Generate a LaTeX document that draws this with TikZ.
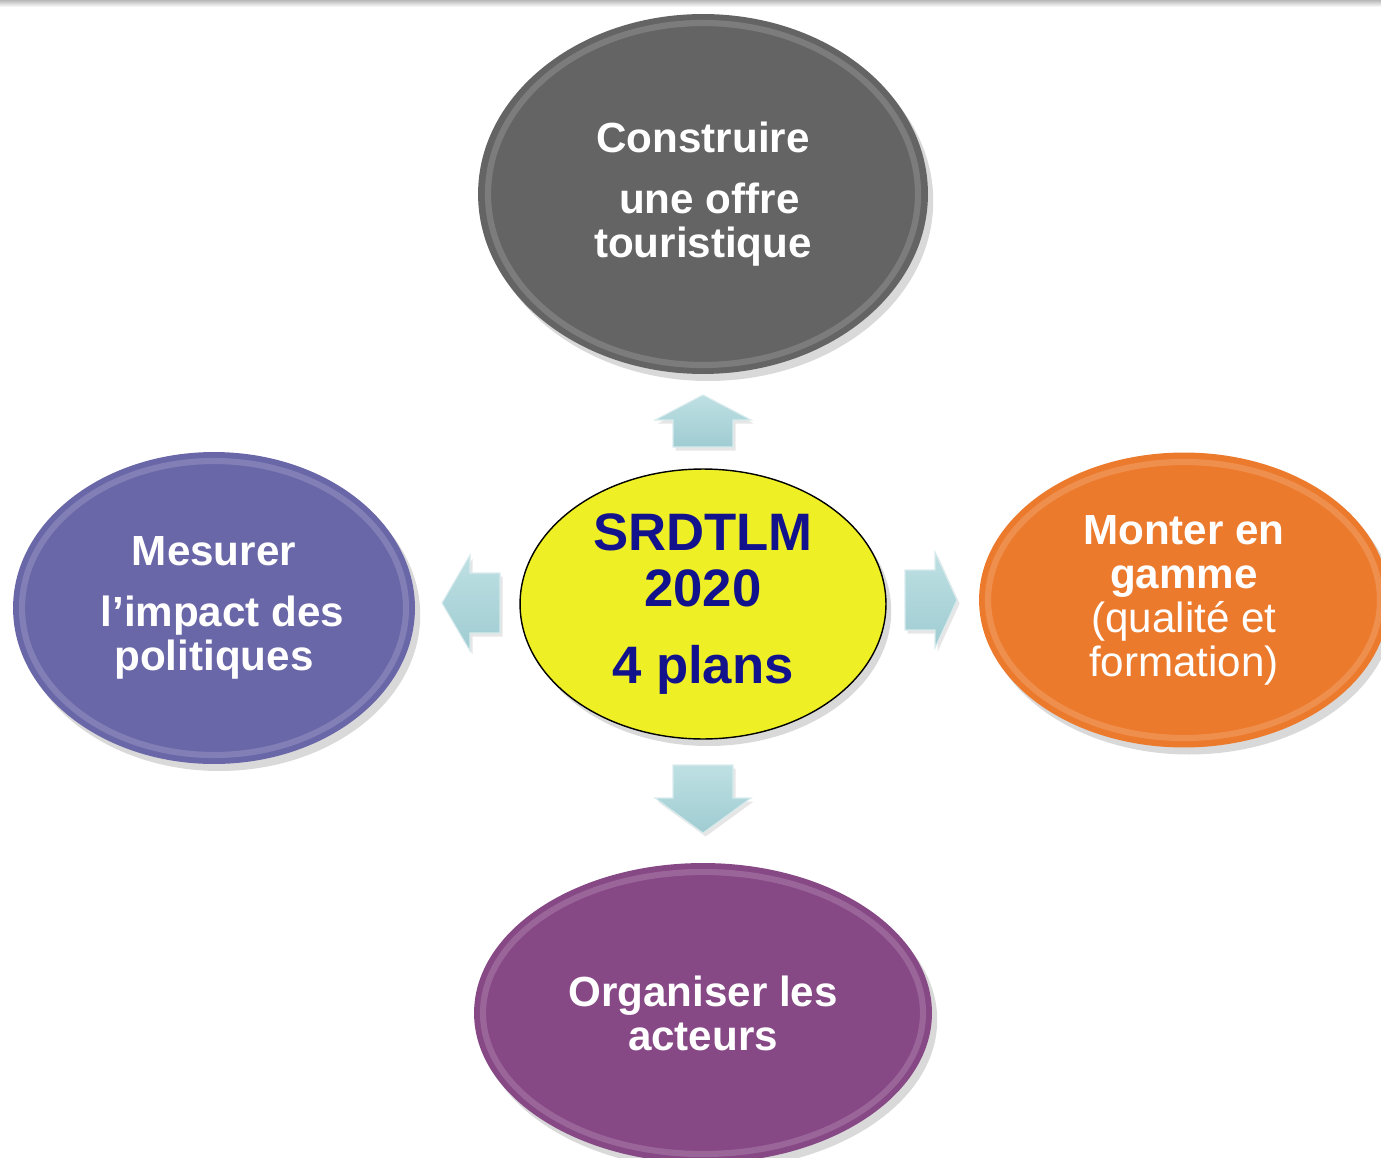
\documentclass[tikz,border=0pt]{standalone}
\usepackage{fontspec}
\setmainfont{Liberation Sans}
\usetikzlibrary{shapes.geometric,shadows}

\definecolor{plangray}{HTML}{646464}
\definecolor{planyellow}{HTML}{EFEF25}
\definecolor{planblue}{HTML}{6A67A8}
\definecolor{planorange}{HTML}{EC7A2D}
\definecolor{planpurple}{HTML}{874886}
\definecolor{titleblue}{RGB}{18,18,140}
\definecolor{arrowtop}{HTML}{BEE0E3}
\definecolor{arrowbot}{HTML}{9FCCD2}

\tikzset{
  plan/.style={ellipse, inner sep=0pt, text=white, align=center,
    font=\fontsize{24}{25}\selectfont\bfseries,
    drop shadow={opacity=0.3, shadow xshift=3pt, shadow yshift=-4pt}},
  rim/.style={white, opacity=0.16, line width=3.5pt},
  arrowfill/.style={top color=arrowtop, bottom color=arrowbot,
    draw=white!60!arrowbot, line width=0.6pt,
    drop shadow={opacity=0.2, shadow xshift=1.5pt, shadow yshift=-2pt}}
}

% block arrow: base point, rotation, shaft length, head length
\newcommand{\blockarrow}[4]{%
  \begin{scope}[shift={(#1)}, rotate=#2]
    \path[arrowfill] (-30,0) -- (30,0) -- (30,-#3) -- (48,-#3)
      -- (0,-#3-#4) -- (-48,-#3) -- (-30,-#3) -- cycle;
  \end{scope}}

\begin{document}
\begin{tikzpicture}[x=0.02cm, y=-0.02cm]
\useasboundingbox (0,0) rectangle (1381,1158);
\clip (0,0) rectangle (1381,1158);
\fill[top color=black!28, bottom color=white] (0,0) rectangle (1381,7);

% the four plans
\node[plan, fill=plangray, minimum width=9cm, minimum height=7.2cm]
  (construire) at (703,194) {Construire\\[9.7pt] \hspace{0.3em}une offre\\ touristique};
\node[plan, fill=planblue, minimum width=8.04cm, minimum height=6.24cm]
  (mesurer) at (214,608) {Mesurer\\[9.7pt] \hspace{0.4em}l’impact des\\ politiques};
\node[plan, fill=planorange, minimum width=8.2cm, minimum height=5.9cm,
  font=\fontsize{24}{25}\selectfont]
  (monter) at (1184,600) {\textbf{Monter en}\\ \textbf{gamme}\\ (qualité et\\ formation)};
\node[plan, fill=planpurple, minimum width=9.16cm, minimum height=6cm]
  (organiser) at (703,1013) {Organiser les\\ acteurs};

\draw[rim] (construire.center) ellipse [x radius=215, y radius=171];
\draw[rim] (mesurer.center) ellipse [x radius=192, y radius=147];
\draw[rim] (monter.center) ellipse [x radius=196, y radius=138];
\draw[rim] (organiser.center) ellipse [x radius=220, y radius=141];

% centre
\node[plan, fill=planyellow, draw=black, line width=0.8pt, text=titleblue,
  font=\fontsize{30}{32}\selectfont\bfseries,
  minimum width=7.32cm, minimum height=5.4cm]
  (srdtlm) at (703,604) {SRDTLM\\ 2020\\[12pt] 4 plans};

% arrows
\blockarrow{703,447}{0}{27}{25}
\blockarrow{500,603}{90}{30}{28}
\blockarrow{905,600}{-90}{30}{22}
\blockarrow{703,765}{180}{33}{35}
\end{tikzpicture}
\end{document}
